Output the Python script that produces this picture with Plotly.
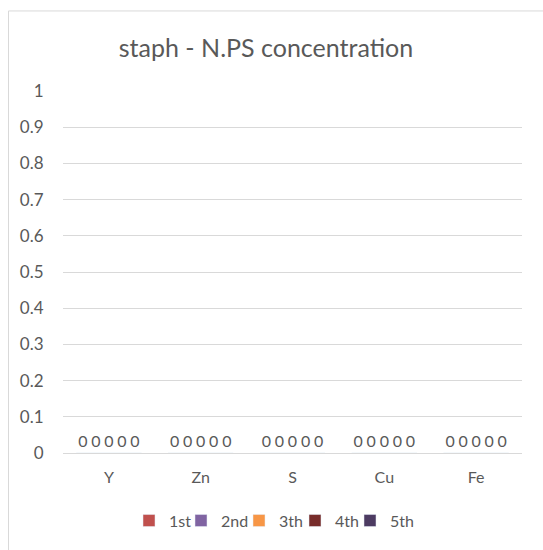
import plotly.graph_objects as go

categories = ["Y", "Zn", "S", "Cu", "Fe"]
series_names = ["1st", "2nd", "3th", "4th", "5th"]
series_values = {
    "1st": [0, 0, 0, 0, 0],
    "2nd": [0, 0, 0, 0, 0],
    "3th": [0, 0, 0, 0, 0],
    "4th": [0, 0, 0, 0, 0],
    "5th": [0, 0, 0, 0, 0],
}
series_colors = ["#C0504D", "#8064A2", "#F79646", "#772C2A", "#4D3B62"]
y_ticks = [0, 0.1, 0.2, 0.3, 0.4, 0.5, 0.6, 0.7, 0.8, 0.9, 1]
y_tick_labels = ["0", "0.1", "0.2", "0.3", "0.4", "0.5", "0.6", "0.7", "0.8", "0.9", "1"]

FONT = "Lato"
GRAY = "#595959"

W, H = 543, 550
L, R, T, B = 63, 21, 91, 95
pw = W - L - R
ph = H - T - B

def px_x(x):
    return (x - L) / pw

def px_y(y):
    return (H - B - y) / ph

# legend entry text start positions (px) in the reference
legend_text_px = [165, 217, 275, 331, 386]

fig = go.Figure()
legend_layouts = {}
for i, (name, color) in enumerate(zip(series_names, series_colors)):
    vals = series_values[name]
    lg = "legend" if i == 0 else f"legend{i + 1}"
    fig.add_trace(go.Bar(
        name=name,
        x=categories,
        y=vals,
        marker=dict(color=color),
        text=[f"{v:g}" for v in vals],
        textposition="outside",
        cliponaxis=False,
        textfont=dict(family=FONT, size=16, color=GRAY),
        legend=lg,
        showlegend=True,
    ))
    legend_layouts[lg] = dict(
        orientation="h", x=px_x(legend_text_px[i] - 36), xanchor="left",
        y=px_y(523), yanchor="middle",
        font=dict(family=FONT, size=16, color=GRAY), itemwidth=30,
        bgcolor="rgba(0,0,0,0)",
    )

fig.update_layout(
    width=W, height=H,
    margin=dict(l=L, r=R, t=T, b=B),
    paper_bgcolor="white",
    plot_bgcolor="white",
    showlegend=True,
    barmode="group",
    bargap=0.29,
    bargroupgap=0,
    title=dict(text="staph - N.PS concentration", x=px_x(266), xanchor="center",
               xref="paper",
               y=1 - 48 / H, yanchor="middle",
               font=dict(family=FONT, size=25, color=GRAY)),
    font=dict(family=FONT, color=GRAY, size=16),
    xaxis=dict(showgrid=False, showline=False, zeroline=False,
               ticks="outside", ticklen=10, tickcolor="rgba(0,0,0,0)",
               tickfont=dict(family=FONT, size=16, color=GRAY), fixedrange=True),
    yaxis=dict(range=[0, 1], tickvals=y_ticks, ticktext=y_tick_labels,
               showgrid=True, gridcolor="#D9D9D9", gridwidth=1,
               zeroline=True, zerolinecolor="#D9D9D9", zerolinewidth=1,
               showline=False,
               ticks="outside", ticklen=15, tickcolor="rgba(0,0,0,0)",
               tickfont=dict(family=FONT, size=17, color=GRAY), fixedrange=True),
    shapes=[dict(type="rect", xref="paper", yref="paper",
                 x0=px_x(8.5), x1=px_x(560), y0=px_y(570), y1=px_y(10.5),
                 line=dict(color="#D9D9D9", width=1), fillcolor="rgba(0,0,0,0)",
                 layer="below")],
    **legend_layouts,
)

fig.write_html("out.html", config={"displayModeBar": False})
